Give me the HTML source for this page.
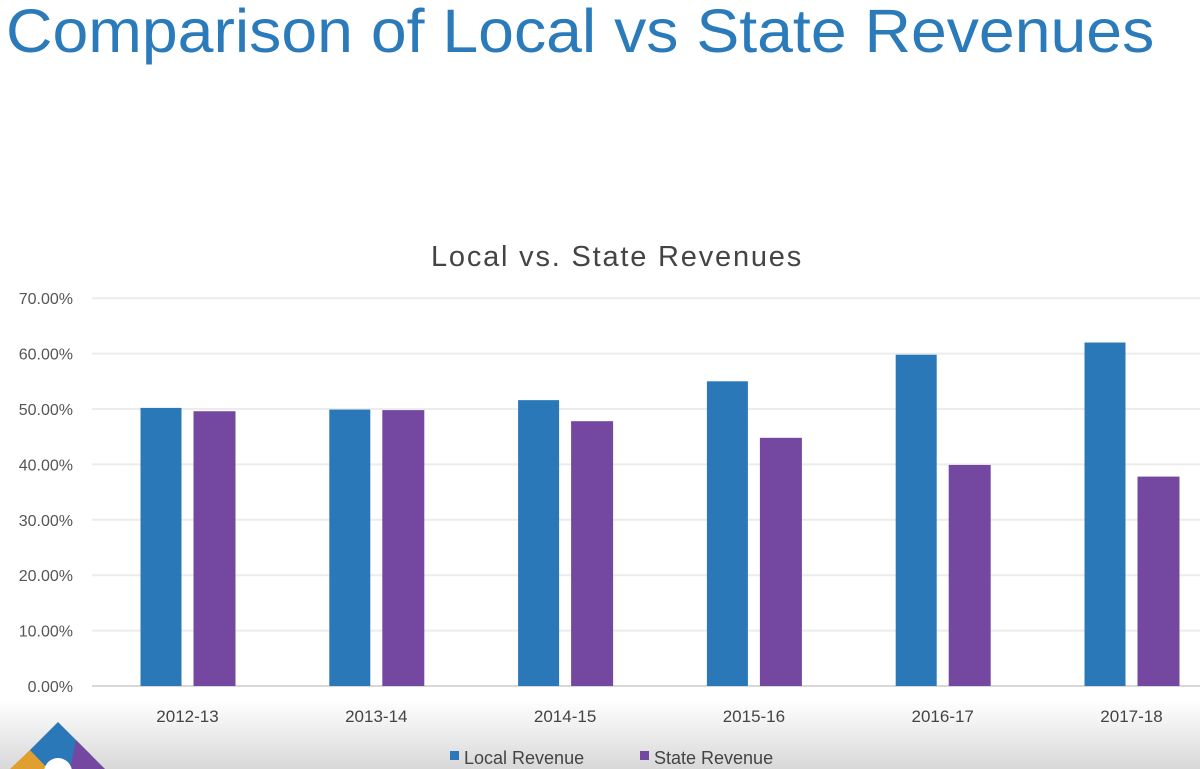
<!DOCTYPE html>
<html><head><meta charset="utf-8"><style>
html,body{margin:0;padding:0;width:1200px;height:769px;overflow:hidden;background:#fff;font-family:"Liberation Sans",sans-serif;}
#title{position:absolute;left:6px;top:-4px;font-size:61px;color:#2b7bbb;white-space:nowrap;transform-origin:0 0;transform:scaleX(1.055);}
svg{position:absolute;left:0;top:0;}
</style></head><body>
<div id="title">Comparison of Local vs State Revenues</div>
<svg id="chart" width="1200" height="769">
<defs><linearGradient id="bg" x1="0" y1="0" x2="0" y2="1"><stop offset="0" stop-color="#ffffff"/><stop offset="1" stop-color="#d8d8d8"/></linearGradient></defs>
<rect x="0" y="700" width="1200" height="69" fill="url(#bg)"/>
<text x="617" y="266" font-size="29" fill="#444" text-anchor="middle" letter-spacing="1.8">Local vs. State Revenues</text>
<g id="grid"></g><g id="bars"></g><g id="labels"></g>
<g>
<rect x="450" y="751" width="9" height="9" fill="#2a78b8"/>
<text x="464" y="764" font-size="18" fill="#444">Local Revenue</text>
<rect x="640" y="751" width="9" height="9" fill="#7448a0"/>
<text x="654" y="764" font-size="18" fill="#444">State Revenue</text>
</g>
<g>
<polygon points="58,722 90,754 58,786 26,754" fill="#2a78b8"/>
<polygon points="30,750 48,769 10,769" fill="#e0a030"/>
<polygon points="76,740 105,769 70,769" fill="#7448a0"/>
<circle cx="58" cy="772" r="14" fill="#fff"/>
</g>
</svg>
<script>
const categories=["2012-13","2013-14","2014-15","2015-16","2016-17","2017-18"];
const localRevenue=[50.2,49.9,51.6,55.0,59.8,62.0];
const stateRevenue=[49.6,49.8,47.8,44.8,39.9,37.8];
const ticks=[0,10,20,30,40,50,60,70];
const NS="http://www.w3.org/2000/svg";
const y0=686,pxPer=5.54;
function yScale(v){return y0-v*pxPer;}
function xCenter(i){return 187.5+i*188.8;}
const grid=document.getElementById('grid'),bars=document.getElementById('bars'),labels=document.getElementById('labels');
function mk(tag,attrs,parent){const e=document.createElementNS(NS,tag);for(const k in attrs)e.setAttribute(k,attrs[k]);parent.appendChild(e);return e;}
ticks.forEach(t=>{
  const l=mk('line',{x1:92,x2:1200,y1:yScale(t),y2:yScale(t),stroke:t===0?'#d8d8d8':'#ececec','stroke-width':2},grid);
  
  
  const tx=mk('text',{x:73,y:yScale(t)+6,'font-size':16,fill:'#555','text-anchor':'end'},labels);
  tx.textContent=t.toFixed(2)+'%';
  
  
});
categories.forEach((c,i)=>{
  const cx=xCenter(i);
  const b1=mk('rect',{x:cx-47,y:yScale(localRevenue[i]),width:41,height:localRevenue[i]*pxPer,fill:'#2a78b8'},bars);
  
  
  const b2=mk('rect',{x:cx+6,y:yScale(stateRevenue[i]),width:42,height:stateRevenue[i]*pxPer,fill:'#7448a0'},bars);
  
  
  const tx=mk('text',{x:cx,y:722,'font-size':17,fill:'#444','text-anchor':'middle'},labels);
  tx.textContent=c;
  
  
});
</script>
</body></html>
